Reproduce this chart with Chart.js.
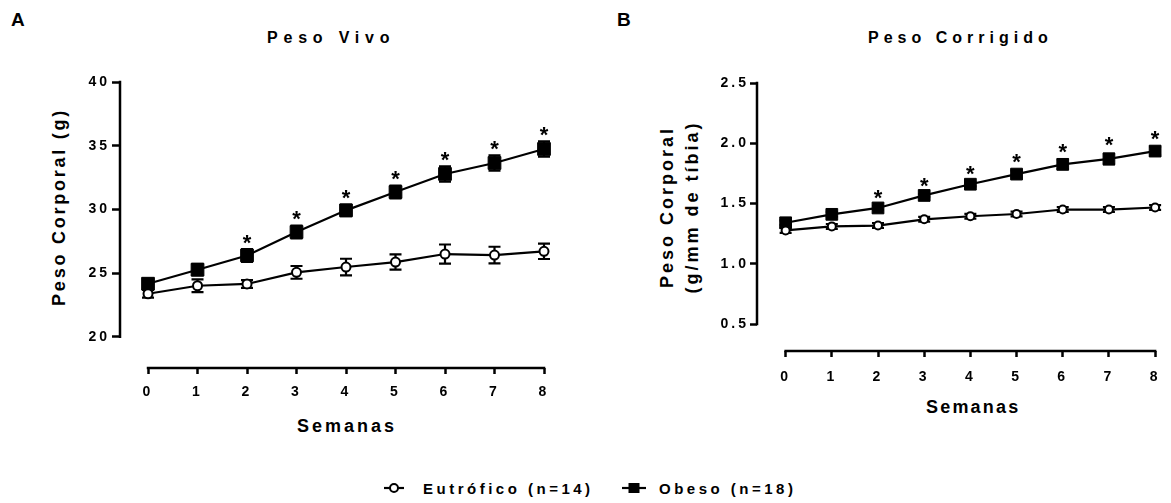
<!DOCTYPE html>
<html lang="pt">
<head>
<meta charset="UTF-8">
<title>Peso Vivo e Peso Corrigido</title>
<script src="https://cdn.jsdelivr.net/npm/chart.js"></script>
<style>
    body {
        margin: 0;
        width: 1171px;
        height: 503px;
        position: relative;
        overflow: hidden;
        background: #fff;
        color: #000;
        font-family: "Liberation Sans", Arial, sans-serif;
        font-weight: bold;
    }
    canvas { position: absolute; top: 0; }
    #chartA { left: 0; }
    #chartB { left: 590px; }
    .txt { position: absolute; white-space: nowrap; line-height: 1; }
    .rot { transform: translate(-50%, -50%) rotate(-90deg); text-align: center; }
    .legend-item { position: absolute; top: 481px; font-size: 15px; letter-spacing: 3.5px; line-height: 15px; white-space: nowrap; }
    .legend-sym { position: absolute; top: 481px; }
</style>
</head>
<body>
<div class="txt" style="left:11px; top:9.5px; font-size:19px;">A</div>
<div class="txt" style="left:617px; top:9.5px; font-size:19px;">B</div>
<div class="txt" style="left:267px; top:30px; font-size:16px; letter-spacing:5.8px;">Peso Vivo</div>
<div class="txt" style="left:868px; top:30px; font-size:16px; letter-spacing:5px;">Peso Corrigido</div>
<div class="txt" style="left:297px; top:417px; font-size:18px; letter-spacing:3px;">Semanas</div>
<div class="txt" style="left:926px; top:398px; font-size:18px; letter-spacing:2.2px;">Semanas</div>
<div class="txt rot" style="left:59px; top:207px; font-size:18px; letter-spacing:2.75px;">Peso Corporal (g)</div>
<div class="txt rot" style="left:680px; top:207px; font-size:18px; letter-spacing:3px; line-height:25px;">Peso Corporal<br>(g/mm de tíbia)</div>

<canvas id="chartA" width="590" height="460"></canvas>
<canvas id="chartB" width="581" height="460"></canvas>
<div id="legend"></div>

<script>
    // semanas e nomes dos grupos
    const weeks = [0, 1, 2, 3, 4, 5, 6, 7, 8];
    const seriesNames = ['Eutrófico (n=14)', 'Obeso (n=18)'];

    // Peso vivo (g)
    const eutroficoVivo = [23.37, 24.0, 24.14, 25.05, 25.47, 25.86, 26.49, 26.41, 26.7];
    const eutroficoVivoErr = [0.3, 0.5, 0.3, 0.5, 0.65, 0.6, 0.75, 0.65, 0.6];
    const obesoVivo = [24.16, 25.26, 26.38, 28.22, 29.92, 31.36, 32.78, 33.64, 34.74];
    const obesoVivoErr = [0.4, 0.45, 0.5, 0.5, 0.45, 0.5, 0.6, 0.6, 0.6];

    // Peso corrigido (g/mm de tibia)
    const eutroficoCorr = [1.277, 1.31, 1.317, 1.369, 1.394, 1.413, 1.45, 1.45, 1.467];
    const eutroficoCorrErr = [0.02, 0.02, 0.02, 0.02, 0.02, 0.02, 0.02, 0.02, 0.02];
    const obesoCorr = [1.34, 1.41, 1.463, 1.567, 1.66, 1.744, 1.825, 1.87, 1.935];
    const obesoCorrErr = [0.02, 0.02, 0.015, 0.012, 0.018, 0.03, 0.04, 0.045, 0.035];

    // diferenca significativa (*) por semana
    const significant = [false, false, true, true, true, true, true, true, true];

    const yTicksVivo = [20, 25, 30, 35, 40];
    const yTicksCorr = [0.5, 1.0, 1.5, 2.0, 2.5];

    const tickFont = { family: 'Liberation Sans', size: 14, weight: 'bold' };

    function toPoints(values) {
        return values.map((v, i) => ({ x: weeks[i], y: v }));
    }

    // espacamento entre letras como no Prism
    const spacing = {
        id: 'spacing',
        beforeDraw(chart) { chart.ctx.letterSpacing = '3px'; }
    };

    // eixos separados (estilo GraphPad)
    const axisLines = {
        id: 'axisLines',
        beforeDatasetsDraw(chart, args, opts) {
            const { ctx, chartArea, scales: { x, y } } = chart;
            const yt = opts.yTicks;
            ctx.save();
            ctx.strokeStyle = '#000';
            ctx.lineWidth = 2.5;
            ctx.lineCap = 'square';
            ctx.beginPath();
            ctx.moveTo(chartArea.left, y.getPixelForValue(yt[0]));
            ctx.lineTo(chartArea.left, y.getPixelForValue(yt[yt.length - 1]));
            ctx.moveTo(x.getPixelForValue(weeks[0]), chartArea.bottom);
            ctx.lineTo(x.getPixelForValue(weeks[weeks.length - 1]), chartArea.bottom);
            ctx.stroke();
            ctx.restore();
        }
    };

    const errorBars = {
        id: 'errorBars',
        beforeDatasetsDraw(chart) {
            const { ctx, scales: { x, y } } = chart;
            ctx.save();
            ctx.strokeStyle = '#000';
            ctx.lineWidth = 2.2;
            chart.data.datasets.forEach(ds => {
                ds.data.forEach((p, i) => {
                    const px = x.getPixelForValue(p.x);
                    const top = y.getPixelForValue(p.y + ds.errors[i]);
                    const bot = y.getPixelForValue(p.y - ds.errors[i]);
                    ctx.beginPath();
                    ctx.moveTo(px, top); ctx.lineTo(px, bot);
                    ctx.moveTo(px - 6, top); ctx.lineTo(px + 6, top);
                    ctx.moveTo(px - 6, bot); ctx.lineTo(px + 6, bot);
                    ctx.stroke();
                });
            });
            ctx.restore();
        }
    };

    const stars = {
        id: 'stars',
        afterDatasetsDraw(chart, args, opts) {
            const { ctx, scales: { x, y } } = chart;
            const ds = chart.data.datasets[1];
            ctx.save();
            ctx.letterSpacing = '0px';
            ctx.fillStyle = '#000';
            ctx.font = 'bold 22px "Liberation Sans"';
            ctx.textAlign = 'center';
            ctx.textBaseline = 'alphabetic';
            ds.data.forEach((p, i) => {
                if (!significant[i]) return;
                const cy = y.getPixelForValue(p.y + ds.errors[i]) - opts.gap;
                ctx.fillText('*', x.getPixelForValue(p.x), cy + 12);
            });
            ctx.restore();
        }
    };

    function buildChart(id, cfg) {
        return new Chart(document.getElementById(id), {
            type: 'line',
            data: {
                datasets: [
                    {
                        label: seriesNames[0],
                        data: toPoints(cfg.eutrofico),
                        errors: cfg.eutroficoErr,
                        borderColor: '#000',
                        borderWidth: 2.2,
                        pointStyle: 'circle',
                        pointRadius: cfg.circleRadius,
                        pointBackgroundColor: '#fff',
                        pointBorderColor: '#000',
                        pointBorderWidth: 2,
                        tension: 0,
                        clip: false
                    },
                    {
                        label: seriesNames[1],
                        data: toPoints(cfg.obeso),
                        errors: cfg.obesoErr,
                        borderColor: '#000',
                        borderWidth: 2.2,
                        pointStyle: 'rect',
                        pointRadius: cfg.rectRadius,
                        pointBackgroundColor: '#000',
                        pointBorderColor: '#000',
                        pointBorderWidth: 1,
                        tension: 0,
                        clip: false
                    }
                ]
            },
            options: {
                responsive: false,
                animation: false,
                events: [],
                layout: { padding: cfg.padding },
                plugins: {
                    legend: { display: false },
                    tooltip: { enabled: false },
                    axisLines: { yTicks: cfg.yTicks },
                    stars: { gap: cfg.starGap }
                },
                scales: {
                    x: {
                        type: 'linear',
                        min: cfg.xMin,
                        max: 8,
                        afterBuildTicks: s => { s.ticks = weeks.map(v => ({ value: v })); },
                        afterFit: s => { s.height = cfg.xHeight; },
                        border: { display: false },
                        grid: { drawOnChartArea: false, drawTicks: true, tickLength: 6, tickWidth: 2.5, tickColor: '#000' },
                        ticks: { color: '#000', font: tickFont, padding: cfg.xPad, callback: v => String(v) }
                    },
                    y: {
                        type: 'linear',
                        min: cfg.yMin,
                        max: cfg.yTicks[cfg.yTicks.length - 1],
                        afterBuildTicks: s => { s.ticks = cfg.yTicks.map(v => ({ value: v })); },
                        afterFit: s => { s.width = cfg.yWidth; },
                        border: { display: false },
                        grid: { drawOnChartArea: false, drawTicks: true, tickLength: cfg.yTickLen, tickWidth: 2.5, tickColor: '#000' },
                        ticks: { color: '#000', font: tickFont, padding: cfg.yPad, callback: cfg.fmt }
                    }
                }
            },
            plugins: [spacing, axisLines, errorBars, stars]
        });
    }

    buildChart('chartA', {
        eutrofico: eutroficoVivo, eutroficoErr: eutroficoVivoErr,
        obeso: obesoVivo, obesoErr: obesoVivoErr,
        yTicks: yTicksVivo, yMin: 17.54, xMin: -0.566,
        padding: { left: 0, right: 46, top: 82, bottom: 0 },
        yWidth: 120, xHeight: 92, xPad: 10, yPad: 2, yTickLen: 8,
        circleRadius: 4.5, rectRadius: 9, starGap: 11.5,
        fmt: v => String(v)
    });

    buildChart('chartB', {
        eutrofico: eutroficoCorr, eutroficoErr: eutroficoCorrErr,
        obeso: obesoCorr, obesoErr: obesoCorrErr,
        yTicks: yTicksCorr, yMin: 0.276, xMin: -0.62,
        padding: { left: 0, right: 11, top: 83, bottom: 0 },
        yWidth: 167, xHeight: 109, xPad: 12, yPad: 1, yTickLen: 7,
        circleRadius: 4, rectRadius: 8.3, starGap: 13,
        fmt: v => v.toFixed(1)
    });

    // legenda comum aos dois paineis
    const legend = document.getElementById('legend');
    legend.innerHTML =
        '<svg class="legend-sym" style="left:384px" width="20" height="14">' +
        '<line x1="0" y1="7" x2="20" y2="7" stroke="#000" stroke-width="2.2"/>' +
        '<circle cx="10" cy="7" r="4" fill="#fff" stroke="#000" stroke-width="2"/></svg>' +
        '<div class="legend-item" style="left:423px">' + seriesNames[0] + '</div>' +
        '<svg class="legend-sym" style="left:622px" width="24" height="14">' +
        '<line x1="0" y1="7" x2="24" y2="7" stroke="#000" stroke-width="2.2"/>' +
        '<rect x="6.5" y="2" width="11" height="10" fill="#000"/></svg>' +
        '<div class="legend-item" style="left:659px">' + seriesNames[1] + '</div>';
</script>
</body>
</html>
